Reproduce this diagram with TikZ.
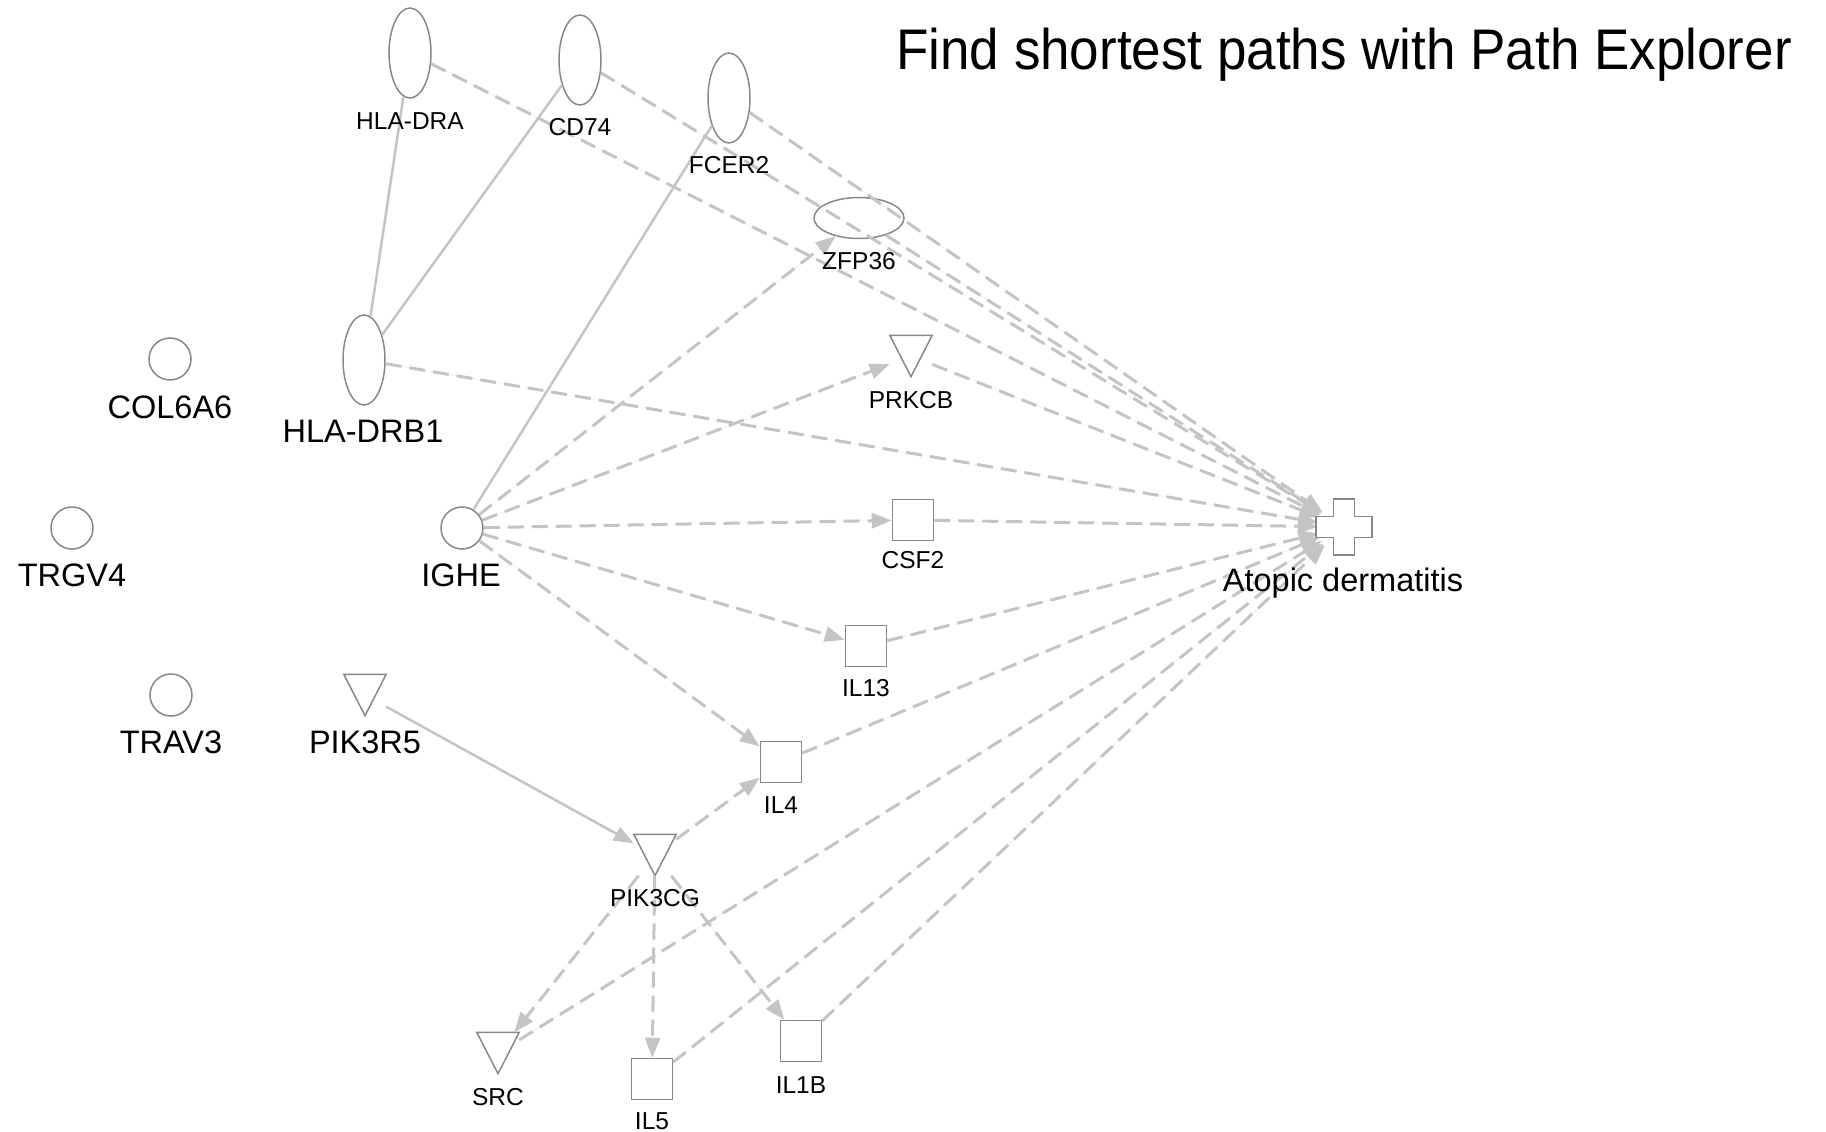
\documentclass[tikz,border=0pt]{standalone}
\usepackage{fontspec}
\setmainfont{Liberation Sans}
\usetikzlibrary{shapes.geometric,arrows.meta}
\definecolor{edgegray}{HTML}{C4C4C4}
\definecolor{nodegray}{HTML}{888888}
\begin{document}
\begin{tikzpicture}[x=1pt,y=-1pt,
  ell/.style={ellipse, draw=nodegray, line width=1.5pt, minimum width=42pt, minimum height=90pt, inner sep=0pt},
  hell/.style={ellipse, draw=nodegray, line width=1.5pt, minimum width=90pt, minimum height=41pt, inner sep=0pt},
  circ/.style={circle, draw=nodegray, line width=1.5pt, minimum size=42pt, inner sep=0pt},
  sq/.style={rectangle, draw=nodegray, line width=1.5pt, minimum size=41pt, inner sep=0pt},
  tri/.style={rectangle, minimum width=42pt, minimum height=41pt, inner sep=0pt},
  trishape/.style={draw=nodegray, line width=1.5pt, line join=miter},
  dis/.style={circle, minimum size=52pt, inner sep=0pt},
  biglab/.style={font=\fontsize{32.5}{36}\selectfont, inner sep=0pt, text height=23.3pt, text depth=0pt},
  smalllab/.style={font=\fontsize{24.5}{28}\selectfont, inner sep=0pt, text height=17.5pt, text depth=0pt},
  solidedge/.style={draw=edgegray, line width=2.5pt},
  dedge/.style={draw=edgegray, line width=3pt, dash pattern=on 16pt off 8pt},
  arr/.style={-{Triangle[length=20pt,width=15pt]}, fill=edgegray}
]
\useasboundingbox (0,0) rectangle (1826,1132);

% title
\node[font=\fontsize{53}{60}\selectfont, inner sep=0pt, text height=38pt, text depth=0pt, yscale=1.08, transform shape] (title) at (1344,49) {Find shortest paths with Path Explorer};

% nodes
\node[ell] (hladra) at (410,53) {};
\node[ell] (cd74) at (580,60) {};
\node[ell] (fcer2) at (729,98) {};
\node[hell] (zfp36) at (859,218) {};
\node[ell] (hladrb1) at (364,360) {};
\node[tri] (prkcb) at (911,356) {};
\node[circ] (col6a6) at (170,359) {};
\node[circ] (trgv4) at (72,528) {};
\node[circ] (ighe) at (462,528) {};
\node[sq] (csf2) at (913,520) {};
\node[sq] (il13) at (866,646) {};
\node[circ] (trav3) at (171,695) {};
\node[tri] (pik3r5) at (365,695) {};
\node[sq] (il4) at (781,762) {};
\node[tri] (pik3cg) at (655,855) {};
\node[tri] (src) at (498,1053) {};
\node[sq] (il5) at (652,1079) {};
\node[sq] (il1b) at (801,1041) {};
\node[dis] (ad) at (1344,527) {};

% triangles
\foreach \t in {prkcb,pik3r5,pik3cg,src}{
  \draw[trishape] (\t.north west) -- (\t.north east) -- (\t.south) -- cycle;
}

% solid edges
\draw[solidedge] (hladra) -- (hladrb1);
\draw[solidedge] (cd74) -- (hladrb1);
\draw[solidedge] (fcer2) -- (ighe);
\draw[solidedge, arr] (pik3r5) -- (pik3cg);

% dashed edges to Atopic dermatitis
\foreach \s in {hladra,cd74,fcer2,zfp36,hladrb1,prkcb,csf2,il13,il4,src,il5,il1b}{
  \draw[dedge, arr] (\s) -- (ad);
}
% IGHE targets
\foreach \t in {zfp36,prkcb,csf2,il13,il4}{
  \draw[dedge, arr] (ighe) -- (\t);
}
% PIK3CG targets
\foreach \t in {il4,src,il5,il1b}{
  \draw[dedge, arr] (pik3cg) -- (\t);
}

% cross for Atopic dermatitis
\draw[draw=nodegray, line width=1.5pt, fill=white]
  ([shift={(-10.5,-28)}]ad.center) -- ([shift={(10.5,-28)}]ad.center) --
  ([shift={(10.5,-10.5)}]ad.center) -- ([shift={(28,-10.5)}]ad.center) --
  ([shift={(28,10.5)}]ad.center) -- ([shift={(10.5,10.5)}]ad.center) --
  ([shift={(10.5,28)}]ad.center) -- ([shift={(-10.5,28)}]ad.center) --
  ([shift={(-10.5,10.5)}]ad.center) -- ([shift={(-28,10.5)}]ad.center) --
  ([shift={(-28,-10.5)}]ad.center) -- ([shift={(-10.5,-10.5)}]ad.center) -- cycle;

% labels
\node[smalllab] (lhladra) at (410,121) {HLA-DRA};
\node[smalllab] (lcd74) at (580,127) {CD74};
\node[smalllab] (lfcer2) at (729,165) {FCER2};
\node[smalllab] (lzfp36) at (859,261) {ZFP36};
\node[smalllab] (lprkcb) at (911,400) {PRKCB};
\node[smalllab] (lcsf2) at (913,560) {CSF2};
\node[smalllab] (lil13) at (866,688) {IL13};
\node[smalllab] (lil4) at (781,805) {IL4};
\node[smalllab] (lpik3cg) at (655,898) {PIK3CG};
\node[smalllab] (lsrc) at (498,1097) {SRC};
\node[smalllab] (lil5) at (652,1120.5) {IL5};
\node[smalllab] (lil1b) at (801,1085) {IL1B};
\node[biglab] (lcol6a6) at (170,407) {COL6A6};
\node[biglab] (lhladrb1) at (363,431) {HLA-DRB1};
\node[biglab] (ltrgv4) at (72,575) {TRGV4};
\node[biglab] (lighe) at (461,575) {IGHE};
\node[biglab] (ltrav3) at (171,742) {TRAV3};
\node[biglab] (lpik3r5) at (365,742) {PIK3R5};
\node[biglab] (lad) at (1343,580) {Atopic dermatitis};
\end{tikzpicture}
\end{document}
